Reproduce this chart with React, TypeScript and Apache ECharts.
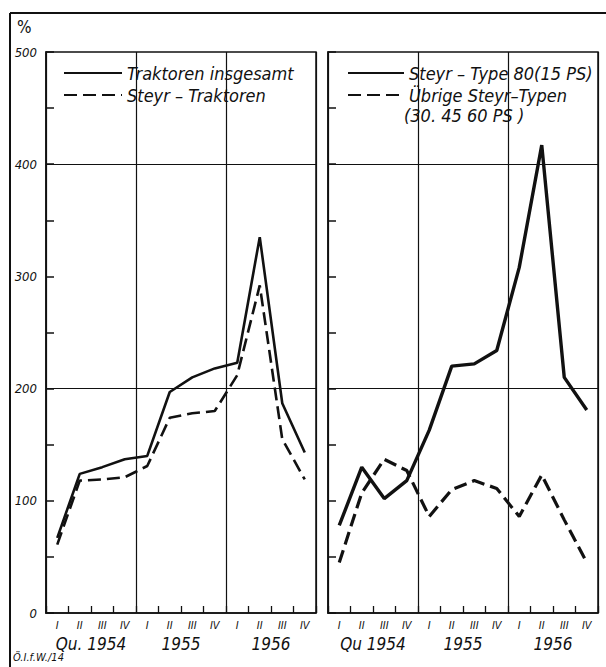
import React, { useEffect, useRef } from "react";
import * as echarts from "echarts";

const quarters = ["I", "II", "III", "IV", "I", "II", "III", "IV", "I", "II", "III", "IV"];
const yearsLeft = ["Qu. 1954", "1955", "1956"];
const yearsRight = ["Qu 1954", "1955", "1956"];
const traktorenInsgesamt = [67, 124, 130, 137, 140, 197, 210, 218, 223, 335, 187, 143];
const steyrTraktoren = [61, 118, 119, 121, 131, 174, 178, 180, 212, 292, 155, 119];
const steyrType80 = [78, 130, 102, 118, 163, 220, 222, 234, 308, 417, 210, 181];
const uebrigeSteyr = [45, 107, 137, 127, 86, 110, 118, 111, 86, 123, 83, 45];
const referenceLines = [200, 400];

const FONT = "'DejaVu Sans Condensed', 'Liberation Sans Narrow', 'DejaVu Sans', sans-serif";
const INK = "#111";

export default function App() {
  const ref = useRef<HTMLDivElement>(null);
  useEffect(() => {
    document.body.style.margin = "0";
    const chart = echarts.init(ref.current!, null, { renderer: "svg" });
    const grids = [
      { left: 46, top: 52, width: 270, height: 561 },
      { left: 328, top: 52, width: 270, height: 561 },
    ];
    const xQuarter = (gi: number) => ({
      type: "category",
      gridIndex: gi,
      data: quarters,
      boundaryGap: true,
      z: 4,
      axisLine: { show: true, lineStyle: { color: INK, width: 1.5 } },
      axisTick: { show: true, inside: true, length: 7, interval: 0, lineStyle: { color: INK, width: 1.3 } },
      axisLabel: { show: true, interval: 0, margin: 7, color: INK, fontSize: 11, fontStyle: "italic", fontFamily: FONT },
      splitLine: { show: true, interval: (i: number) => i % 4 === 0, lineStyle: { color: INK, width: 1.2 } },
    });
    const xYear = (gi: number, data: string[]) => ({
      type: "category",
      gridIndex: gi,
      data,
      position: "bottom",
      offset: 18,
      boundaryGap: true,
      axisLine: { show: false },
      axisTick: { show: false },
      splitLine: { show: false },
      axisLabel: { show: true, interval: 0, margin: 4, color: INK, fontSize: 17, fontStyle: "italic", fontFamily: FONT },
    });
    const yAx = (gi: number, labels: boolean) => ({
      type: "value",
      gridIndex: gi,
      position: "left",
      min: 0,
      max: 500,
      interval: 50,
      z: 4,
      axisLine: { show: true, onZero: false, lineStyle: { color: INK, width: 1.5 } },
      axisTick: { show: true, inside: true, length: 8, lineStyle: { color: INK, width: 1.5 } },
      splitLine: { show: false },
      axisLabel: {
        show: labels,
        margin: 9,
        color: INK,
        fontSize: 13,
        fontStyle: "italic",
        fontFamily: FONT,
        formatter: (v: number) => (v % 100 === 0 ? String(v) : ""),
      },
    });
    const mark = {
      silent: true,
      symbol: "none",
      label: { show: false },
      lineStyle: { color: INK, type: "solid", width: 1.2 },
      data: referenceLines.map((v) => ({ yAxis: v })),
    };
    const lineSeries = (name: string, data: number[], gi: number, dashed: boolean, width: number, withMark: boolean) => ({
      type: "line",
      name,
      data,
      xAxisIndex: gi * 2,
      yAxisIndex: gi,
      symbol: "none",
      lineStyle: { color: INK, width, type: dashed ? [13, 6] : "solid" },
      itemStyle: { color: INK },
      markLine: withMark ? mark : undefined,
      z: 3,
    });
    const legendText = { fontSize: 18, fontStyle: "italic", fontFamily: FONT, color: INK };
    chart.setOption({
      animation: false,
      backgroundColor: "#fff",
      grid: grids.map((g) => ({ ...g, show: true, borderColor: INK, borderWidth: 1.5, backgroundColor: "transparent" })),
      xAxis: [xQuarter(0), xYear(0, yearsLeft), xQuarter(1), xYear(1, yearsRight)],
      yAxis: [yAx(0, true), yAx(1, false)],
      legend: [
        {
          data: ["Traktoren insgesamt", "Steyr – Traktoren"],
          left: 58,
          top: 59,
          orient: "vertical",
          itemWidth: 58,
          itemHeight: 16,
          itemGap: 4,
          selectedMode: false,
          itemStyle: { opacity: 0 },
          textStyle: legendText,
        },
        {
          data: ["Steyr – Type 80(15 PS)", "Übrige Steyr–Typen"],
          left: 342,
          top: 59,
          orient: "vertical",
          itemWidth: 56,
          itemHeight: 16,
          itemGap: 4,
          selectedMode: false,
          itemStyle: { opacity: 0 },
          textStyle: legendText,
        },
      ],
      series: [
        lineSeries("Traktoren insgesamt", traktorenInsgesamt, 0, false, 2.6, true),
        lineSeries("Steyr – Traktoren", steyrTraktoren, 0, true, 2.6, false),
        lineSeries("Steyr – Type 80(15 PS)", steyrType80, 1, false, 3.4, true),
        lineSeries("Übrige Steyr–Typen", uebrigeSteyr, 1, true, 3.2, false),
      ],
      graphic: [
        { type: "line", shape: { x1: 10, y1: 13, x2: 606, y2: 13 }, style: { stroke: INK, lineWidth: 2 } },
        { type: "line", shape: { x1: 10, y1: 13, x2: 10, y2: 667 }, style: { stroke: INK, lineWidth: 2 } },
        { type: "text", left: 17, top: 18, style: { text: "%", fontSize: 17, fontFamily: FONT, fill: INK } },
        { type: "text", left: 404, top: 106, style: { text: "(30. 45 60 PS )", ...legendText, fill: INK } },
        { type: "text", left: 13, top: 652, style: { text: "Ö.I.f.W./14", fontSize: 11, fontStyle: "italic", fontFamily: FONT, fill: INK } },
      ],
    });
    return () => chart.dispose();
  }, []);
  return <div ref={ref} style={{ width: 606, height: 667 }} />;
}
